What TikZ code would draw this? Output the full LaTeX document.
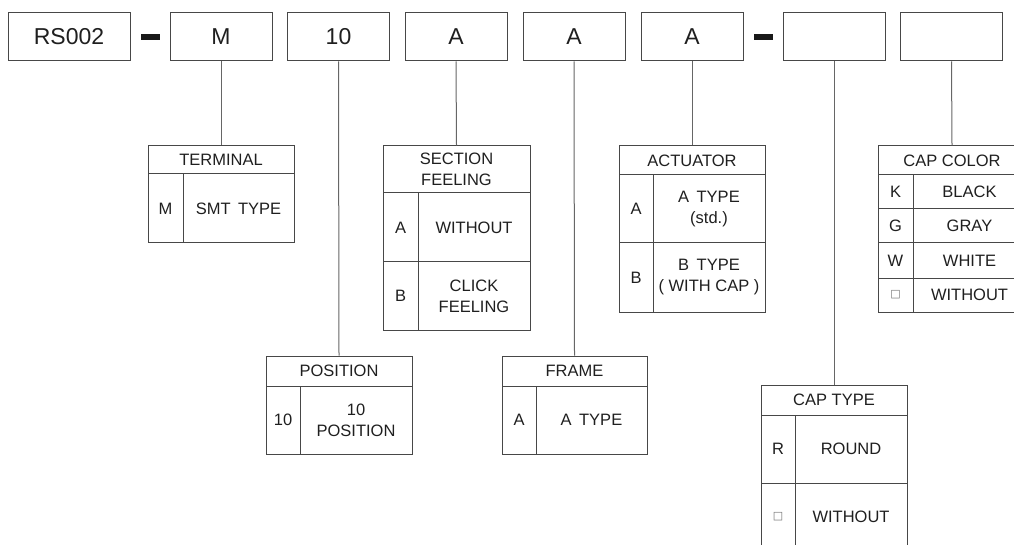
\documentclass[tikz,border=0pt]{standalone}
\usepackage{fontspec}
\setmainfont{Liberation Sans}
\newfontfamily\symfont{DejaVu Sans}
\tikzset{
  topbox/.style={draw=black!72, line width=1pt, inner sep=0pt, minimum width=102pt, minimum height=48pt, font=\fontsize{23}{27}\selectfont, text=black!88},
  cell/.style={draw=black!72, line width=1pt, inner sep=0pt, align=center, font=\fontsize{16.5}{21}\selectfont, text=black!88},
  dashbar/.style={fill=black!90, inner sep=0pt, minimum width=19pt, minimum height=6pt},
  conn/.style={draw=black!60, line width=1pt},
}
\newcommand\tcell[6]{\node[cell, minimum width={#4-#2}, minimum height={#5-#3}] (#1) at ({(#2+#4)/2},{(#3+#5)/2}) {#6};}
\newcommand\sq{{\color{black!55}\fontsize{11}{11}\selectfont\symfont □}}
\begin{document}
\begin{tikzpicture}[x=1pt,y=-1pt]
\useasboundingbox (0,0) rectangle (1014,545);
\clip (0,0) rectangle (1014,545);
% top row
\node[topbox, minimum width=122pt] (b1) at (69,37) {RS002};
\node[dashbar] (d1) at (150.5,37) {};
\node[topbox] (b2) at (221,37) {M};
\node[topbox] (b3) at (338.5,37) {10};
\node[topbox] (b4) at (456,37) {A};
\node[topbox] (b5) at (574,37) {A};
\node[topbox] (b6) at (692,37) {A};
\node[dashbar] (d2) at (763.5,37) {};
\node[topbox] (b7) at (834,37) {};
\node[topbox] (b8) at (951.5,37) {};
% terminal
\tcell{th}{148}{146}{294}{174}{TERMINAL}
\tcell{t1}{148}{174}{183}{243}{M}
\tcell{t2}{183}{174}{294}{243}{SMT\hspace{0.45em}TYPE}
% section feeling
\tcell{sh}{383}{146}{530}{193}{SECTION\\FEELING}
\tcell{s1}{383}{193}{418}{262}{A}
\tcell{s2}{418}{193}{530}{262}{WITHOUT}
\tcell{s3}{383}{262}{418}{330}{B}
\tcell{s4}{418}{262}{530}{330}{CLICK\\FEELING}
% actuator
\tcell{ah}{619}{146}{765}{175}{ACTUATOR}
\tcell{a1}{619}{175}{653}{243}{A}
\tcell{a2}{653}{175}{765}{243}{A\hspace{0.45em}TYPE\\(std.)}
\tcell{a3}{619}{243}{653}{312}{B}
\tcell{a4}{653}{243}{765}{312}{B\hspace{0.45em}TYPE\\( WITH CAP )}
% cap color
\tcell{ch}{878}{146}{1026}{175}{CAP COLOR}
\tcell{c1}{878}{175}{913}{209}{K}
\tcell{c2}{913}{175}{1026}{209}{BLACK}
\tcell{c3}{878}{209}{913}{243}{G}
\tcell{c4}{913}{209}{1026}{243}{GRAY}
\tcell{c5}{878}{243}{913}{278}{W}
\tcell{c6}{913}{243}{1026}{278}{WHITE}
\tcell{c7}{878}{278}{913}{312}{\sq}
\tcell{c8}{913}{278}{1026}{312}{WITHOUT}
% position
\tcell{ph}{266}{356}{412}{386}{POSITION}
\tcell{p1}{266}{386}{300}{454}{10}
\tcell{p2}{300}{386}{412}{454}{10\\POSITION}
% frame
\tcell{fh}{502}{356}{647}{386}{FRAME}
\tcell{f1}{502}{386}{536}{454}{A}
\tcell{f2}{536}{386}{647}{454}{A\hspace{0.45em}TYPE}
% cap type
\tcell{kh}{761}{385}{907}{415}{CAP TYPE}
\tcell{k1}{761}{415}{795}{483}{R}
\tcell{k2}{795}{415}{907}{483}{ROUND}
\tcell{k3}{761}{483}{795}{551}{\sq}
\tcell{k4}{795}{483}{907}{551}{WITHOUT}
% connectors
\draw[conn] (b2.south) -- (th.north);
\draw[conn] (b3.south) -- (ph.north);
\draw[conn] (b4.south) -- (sh.north);
\draw[conn] (b5.south) -- (fh.north);
\draw[conn] (b6.south) -- (ah.north);
\draw[conn] (b7.south) -- (kh.north);
\draw[conn] (b8.south) -- (ch.north);
\end{tikzpicture}
\end{document}
